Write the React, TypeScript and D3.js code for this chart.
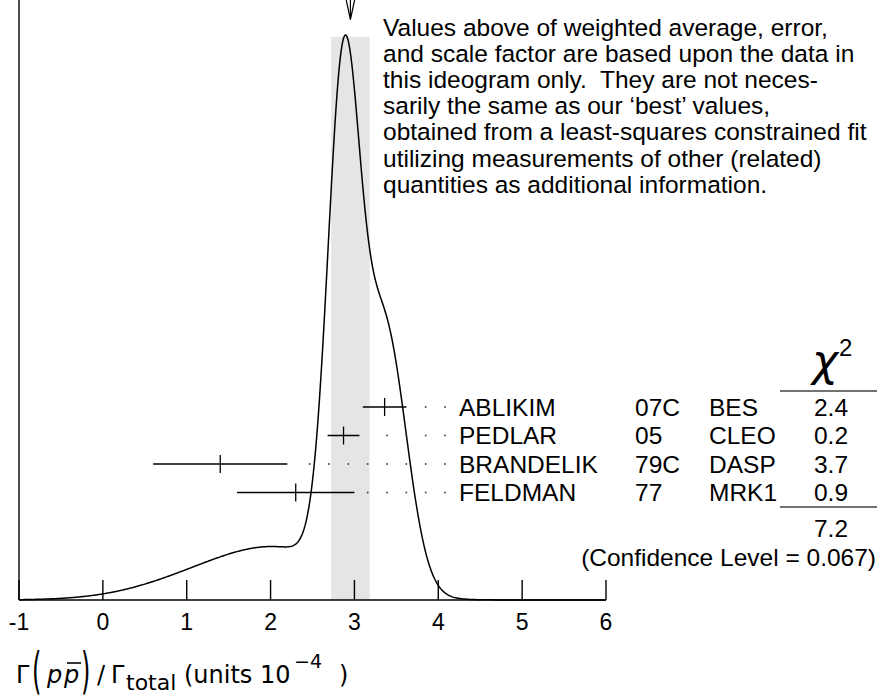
import React, { useEffect } from "react";
import * as d3 from "d3";

// measurements (units 10^-4)
const names = ["ABLIKIM", "PEDLAR", "BRANDELIK", "FELDMAN"];
const years = ["07C", "05", "79C", "77"];
const experiments = ["BES", "CLEO", "DASP", "MRK1"];
const values = [3.36, 2.87, 1.4, 2.3];
const errors = [0.26, 0.19, 0.8, 0.7];
const chi2Labels = ["2.4", "0.2", "3.7", "0.9"];
const chi2Total = "7.2";
const confidenceLevel = "0.067";
const xTicks = [-1, 0, 1, 2, 3, 4, 5, 6];

const noteLines = [
  "Values above of weighted average, error,",
  "and scale factor are based upon the data in",
  "this ideogram only.  They are not neces-",
  "sarily the same as our \u2018best\u2019 values,",
  "obtained from a least-squares constrained fit",
  "utilizing measurements of other (related)",
  "quantities as additional information.",
];

const W = 877;
const H = 700;
const SANS = "'Liberation Sans', Arial, Helvetica, sans-serif";
const DV = "'DejaVu Sans', sans-serif";

const App = () => {
  useEffect(() => {
    document.body.style.margin = "0";
  }, []);

  const x = d3.scaleLinear().domain([-1, 6]).range([19, 606]);
  const axisY = 600;

  // weighted average and scale factor
  const weights = errors.map((e) => 1 / (e * e));
  const wSum = d3.sum(weights);
  const avg = d3.sum(values.map((v, i) => v * weights[i])) / wSum;
  const chi2 = d3.sum(values.map((v, i) => (v - avg) ** 2 * weights[i]));
  const scaleFactor = Math.max(1, Math.sqrt(chi2 / (values.length - 1)));
  const avgErr = scaleFactor / Math.sqrt(wSum);

  // ideogram: gaussians with area proportional to 1/sigma
  const density = (t: number) =>
    d3.sum(values.map((v, i) => {
      const s = errors[i];
      return (1 / (s * s)) * Math.exp(-((t - v) ** 2) / (2 * s * s));
    }));
  const samples = d3.range(0, 701).map((k) => -1 + (k * 7) / 700);
  const pts = samples.map((t) => [t, density(t)] as [number, number]);
  const maxD = d3.max(pts, (p) => p[1]) as number;
  const y = d3.scaleLinear().domain([0, maxD]).range([axisY, 35]);
  const curve = d3
    .line<[number, number]>()
    .x((p) => x(p[0]))
    .y((p) => y(p[1]))(pts) as string;

  const row = d3.scalePoint<string>().domain(names).range([407, 492.5]);

  const nameX = 459;
  const yearX = 635;
  const expX = 709;
  const chiX = 831;
  const dotStep = 19.33;
  const lastDot = nameX - 14;

  const dotsFor = (end: number) => {
    const out: number[] = [];
    for (let dx = lastDot; dx >= end + 11; dx -= dotStep) out.push(dx);
    return out;
  };

  const ax = x(avg);

  return (
    <svg width={W} height={H} style={{ display: "block", background: "#fff" }}>
      {/* error band of the weighted average */}
      <rect
        x={x(avg - avgErr)}
        y={37}
        width={x(avg + avgErr) - x(avg - avgErr)}
        height={axisY - 37}
        fill="#e5e5e5"
      />

      {/* arrow marking the average */}
      <g stroke="#000" strokeWidth={1.2} fill="none">
        <line x1={ax} y1={0} x2={ax} y2={19} />
        <line x1={ax - 4.2} y1={0} x2={ax} y2={19.5} />
        <line x1={ax + 4.2} y1={0} x2={ax} y2={19.5} />
      </g>

      {/* ideogram curve */}
      <path d={curve} fill="none" stroke="#000" strokeWidth={1.5} />

      {/* axes */}
      <g stroke="#000" strokeWidth={1.4}>
        <line x1={x(-1)} y1={0} x2={x(-1)} y2={axisY} />
        <line x1={x(-1)} y1={axisY} x2={x(6)} y2={axisY} />
        {xTicks.map((t) => (
          <line key={t} x1={x(t)} y1={axisY} x2={x(t)} y2={axisY - 20} />
        ))}
      </g>
      {xTicks.map((t) => (
        <text
          key={t}
          x={x(t)}
          y={630}
          textAnchor="middle"
          fontFamily={SANS}
          fontSize={23}
          fill="#000"
        >
          {t}
        </text>
      ))}

      {/* measurements */}
      {names.map((n, i) => {
        const cy = row(n) as number;
        const lo = x(values[i] - errors[i]);
        const hi = x(values[i] + errors[i]);
        const c = x(values[i]);
        return (
          <g key={n}>
            {dotsFor(hi).map((dx) => (
              <rect key={dx} x={dx - 0.8} y={cy - 0.8} width={1.6} height={1.6} fill="#333" />
            ))}
            <g stroke="#000" strokeWidth={1.3}>
              <line x1={lo} y1={cy} x2={hi} y2={cy} />
              <line x1={c} y1={cy - 9} x2={c} y2={cy + 9} />
            </g>
            <g fontFamily={SANS} fontSize={24.5} fill="#000">
              <text x={nameX} y={cy + 8.8}>{n}</text>
              <text x={yearX} y={cy + 8.8}>{years[i]}</text>
              <text x={expX} y={cy + 8.8}>{experiments[i]}</text>
              <text x={chiX} y={cy + 8.8} textAnchor="middle">{chi2Labels[i]}</text>
            </g>
          </g>
        );
      })}

      {/* chi-square column */}
      <text x={825} y={376} textAnchor="middle" fontFamily={DV} fontStyle="italic" fontSize={44} fill="#000">
        {"\u03c7"}
      </text>
      <text x={839} y={356} fontFamily={SANS} fontSize={24} fill="#000">
        2
      </text>
      <g stroke="#444" strokeWidth={1.4}>
        <line x1={780} y1={391} x2={877} y2={391} />
        <line x1={780} y1={507} x2={877} y2={507} />
      </g>
      <text x={chiX} y={536.5} textAnchor="middle" fontFamily={SANS} fontSize={24.5} fill="#000">
        {chi2Total}
      </text>
      <text x={876} y={565.5} textAnchor="end" fontFamily={SANS} fontSize={24.5} fill="#000">
        {`(Confidence Level = ${confidenceLevel})`}
      </text>

      {/* note */}
      <g fontFamily={SANS} fontSize={24.5} fill="#000">
        {noteLines.map((l, i) => (
          <text key={i} x={383} y={36 + i * 26.1} xmlSpace="preserve" style={{ whiteSpace: "pre" }}>
            {l}
          </text>
        ))}
      </g>

      {/* x axis title */}
      <g fontFamily={DV} fill="#000">
        <text x={16} y={683} fontSize={24}>{"\u0393"}</text>
        <text transform="translate(32,688) scale(1,2.1)" fontSize={24}>(</text>
        <text x={47} y={683} fontSize={24} fontStyle="italic">p</text>
        <text x={64} y={683} fontSize={24} fontStyle="italic">p</text>
        <text transform="translate(81,688) scale(1,2.1)" fontSize={24}>)</text>
        <text x={97} y={683} fontSize={24}>/</text>
        <text x={111} y={683} fontSize={24}>{"\u0393"}</text>
        <text x={126} y={690} fontSize={22}>total</text>
        <text x={184} y={683} fontSize={24}>(units 10</text>
        <text x={294} y={668} fontSize={19}>{"\u22124"}</text>
        <text x={339} y={683} fontSize={24}>)</text>
      </g>
      <line x1={67} y1={663} x2={81} y2={663} stroke="#000" strokeWidth={1.6} />
    </svg>
  );
};

export default App;
